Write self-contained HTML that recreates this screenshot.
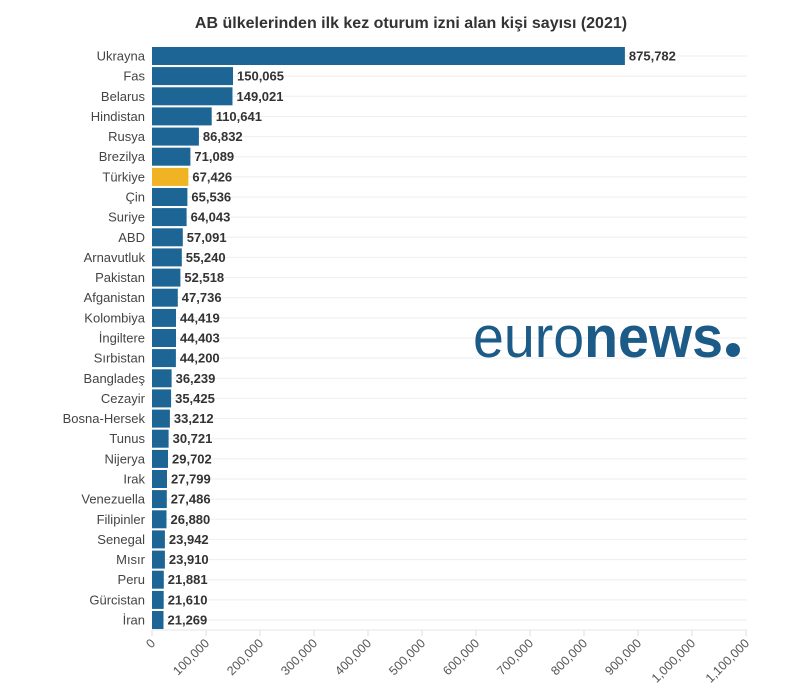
<!DOCTYPE html>
<html><head><meta charset="utf-8"><style>body{margin:0;background:#fff}svg{display:block}</style></head><body>
<svg width="804" height="700" xmlns="http://www.w3.org/2000/svg" font-family="'Liberation Sans',sans-serif">
<text x="411" y="28" text-anchor="middle" font-size="16" font-weight="bold" fill="#333">AB ülkelerinden ilk kez oturum izni alan kişi sayısı (2021)</text>
<g stroke="#ddd">
<line x1="152" y1="630" x2="152" y2="636"/><line x1="206" y1="630" x2="206" y2="636"/><line x1="260" y1="630" x2="260" y2="636"/><line x1="314" y1="630" x2="314" y2="636"/><line x1="368" y1="630" x2="368" y2="636"/><line x1="422" y1="630" x2="422" y2="636"/><line x1="476" y1="630" x2="476" y2="636"/><line x1="530" y1="630" x2="530" y2="636"/><line x1="584" y1="630" x2="584" y2="636"/><line x1="638" y1="630" x2="638" y2="636"/><line x1="692" y1="630" x2="692" y2="636"/><line x1="746" y1="630" x2="746" y2="636"/>
<line x1="152" y1="630" x2="747" y2="630" stroke="#e6e6e6"/>
</g>
<g font-size="12.5" fill="#555" text-anchor="end">
<text transform="translate(156,644) rotate(-45)">0</text>
<text transform="translate(210,644) rotate(-45)">100,000</text>
<text transform="translate(264,644) rotate(-45)">200,000</text>
<text transform="translate(318,644) rotate(-45)">300,000</text>
<text transform="translate(372,644) rotate(-45)">400,000</text>
<text transform="translate(426,644) rotate(-45)">500,000</text>
<text transform="translate(480,644) rotate(-45)">600,000</text>
<text transform="translate(534,644) rotate(-45)">700,000</text>
<text transform="translate(588,644) rotate(-45)">800,000</text>
<text transform="translate(642,644) rotate(-45)">900,000</text>
<text transform="translate(696,644) rotate(-45)">1,000,000</text>
<text transform="translate(750,644) rotate(-45)">1,100,000</text>
</g>
<defs><style>.gl{stroke:#eee}.b{fill:#1d6594}.l{font-size:13px;fill:#444;text-anchor:end}.v{font-size:13px;font-weight:bold;fill:#333}</style></defs>
<g transform="translate(0,56)"><line class="gl" x1="152" x2="747"/><rect class="b" x="152" y="-9" width="472.9" height="18"/><text class="l" x="145" y="4.5">Ukrayna</text><text class="v" x="628.9" y="4.5">875,782</text></g>
<g transform="translate(0,76.1)"><line class="gl" x1="152" x2="747"/><rect class="b" x="152" y="-9" width="81" height="18"/><text class="l" x="145" y="4.5">Fas</text><text class="v" x="237" y="4.5">150,065</text></g>
<g transform="translate(0,96.3)"><line class="gl" x1="152" x2="747"/><rect class="b" x="152" y="-9" width="80.5" height="18"/><text class="l" x="145" y="4.5">Belarus</text><text class="v" x="236.5" y="4.5">149,021</text></g>
<g transform="translate(0,116.4)"><line class="gl" x1="152" x2="747"/><rect class="b" x="152" y="-9" width="59.7" height="18"/><text class="l" x="145" y="4.5">Hindistan</text><text class="v" x="215.7" y="4.5">110,641</text></g>
<g transform="translate(0,136.6)"><line class="gl" x1="152" x2="747"/><rect class="b" x="152" y="-9" width="46.9" height="18"/><text class="l" x="145" y="4.5">Rusya</text><text class="v" x="202.9" y="4.5">86,832</text></g>
<g transform="translate(0,156.7)"><line class="gl" x1="152" x2="747"/><rect class="b" x="152" y="-9" width="38.4" height="18"/><text class="l" x="145" y="4.5">Brezilya</text><text class="v" x="194.4" y="4.5">71,089</text></g>
<g transform="translate(0,176.9)"><line class="gl" x1="152" x2="747"/><rect x="152" y="-9" width="36.4" height="18" fill="#f0b323"/><text class="l" x="145" y="4.5">Türkiye</text><text class="v" x="192.4" y="4.5">67,426</text></g>
<g transform="translate(0,197)"><line class="gl" x1="152" x2="747"/><rect class="b" x="152" y="-9" width="35.4" height="18"/><text class="l" x="145" y="4.5">Çin</text><text class="v" x="191.4" y="4.5">65,536</text></g>
<g transform="translate(0,217.1)"><line class="gl" x1="152" x2="747"/><rect class="b" x="152" y="-9" width="34.6" height="18"/><text class="l" x="145" y="4.5">Suriye</text><text class="v" x="190.6" y="4.5">64,043</text></g>
<g transform="translate(0,237.3)"><line class="gl" x1="152" x2="747"/><rect class="b" x="152" y="-9" width="30.8" height="18"/><text class="l" x="145" y="4.5">ABD</text><text class="v" x="186.8" y="4.5">57,091</text></g>
<g transform="translate(0,257.4)"><line class="gl" x1="152" x2="747"/><rect class="b" x="152" y="-9" width="29.8" height="18"/><text class="l" x="145" y="4.5">Arnavutluk</text><text class="v" x="185.8" y="4.5">55,240</text></g>
<g transform="translate(0,277.6)"><line class="gl" x1="152" x2="747"/><rect class="b" x="152" y="-9" width="28.4" height="18"/><text class="l" x="145" y="4.5">Pakistan</text><text class="v" x="184.4" y="4.5">52,518</text></g>
<g transform="translate(0,297.7)"><line class="gl" x1="152" x2="747"/><rect class="b" x="152" y="-9" width="25.8" height="18"/><text class="l" x="145" y="4.5">Afganistan</text><text class="v" x="181.8" y="4.5">47,736</text></g>
<g transform="translate(0,317.9)"><line class="gl" x1="152" x2="747"/><rect class="b" x="152" y="-9" width="24" height="18"/><text class="l" x="145" y="4.5">Kolombiya</text><text class="v" x="180" y="4.5">44,419</text></g>
<g transform="translate(0,338)"><line class="gl" x1="152" x2="747"/><rect class="b" x="152" y="-9" width="24" height="18"/><text class="l" x="145" y="4.5">İngiltere</text><text class="v" x="180" y="4.5">44,403</text></g>
<g transform="translate(0,358.1)"><line class="gl" x1="152" x2="747"/><rect class="b" x="152" y="-9" width="23.9" height="18"/><text class="l" x="145" y="4.5">Sırbistan</text><text class="v" x="179.9" y="4.5">44,200</text></g>
<g transform="translate(0,378.3)"><line class="gl" x1="152" x2="747"/><rect class="b" x="152" y="-9" width="19.6" height="18"/><text class="l" x="145" y="4.5">Bangladeş</text><text class="v" x="175.6" y="4.5">36,239</text></g>
<g transform="translate(0,398.4)"><line class="gl" x1="152" x2="747"/><rect class="b" x="152" y="-9" width="19.1" height="18"/><text class="l" x="145" y="4.5">Cezayir</text><text class="v" x="175.1" y="4.5">35,425</text></g>
<g transform="translate(0,418.6)"><line class="gl" x1="152" x2="747"/><rect class="b" x="152" y="-9" width="17.9" height="18"/><text class="l" x="145" y="4.5">Bosna-Hersek</text><text class="v" x="173.9" y="4.5">33,212</text></g>
<g transform="translate(0,438.7)"><line class="gl" x1="152" x2="747"/><rect class="b" x="152" y="-9" width="16.6" height="18"/><text class="l" x="145" y="4.5">Tunus</text><text class="v" x="172.6" y="4.5">30,721</text></g>
<g transform="translate(0,458.9)"><line class="gl" x1="152" x2="747"/><rect class="b" x="152" y="-9" width="16" height="18"/><text class="l" x="145" y="4.5">Nijerya</text><text class="v" x="172" y="4.5">29,702</text></g>
<g transform="translate(0,479)"><line class="gl" x1="152" x2="747"/><rect class="b" x="152" y="-9" width="15" height="18"/><text class="l" x="145" y="4.5">Irak</text><text class="v" x="171" y="4.5">27,799</text></g>
<g transform="translate(0,499.1)"><line class="gl" x1="152" x2="747"/><rect class="b" x="152" y="-9" width="14.8" height="18"/><text class="l" x="145" y="4.5">Venezuella</text><text class="v" x="170.8" y="4.5">27,486</text></g>
<g transform="translate(0,519.3)"><line class="gl" x1="152" x2="747"/><rect class="b" x="152" y="-9" width="14.5" height="18"/><text class="l" x="145" y="4.5">Filipinler</text><text class="v" x="170.5" y="4.5">26,880</text></g>
<g transform="translate(0,539.4)"><line class="gl" x1="152" x2="747"/><rect class="b" x="152" y="-9" width="12.9" height="18"/><text class="l" x="145" y="4.5">Senegal</text><text class="v" x="168.9" y="4.5">23,942</text></g>
<g transform="translate(0,559.6)"><line class="gl" x1="152" x2="747"/><rect class="b" x="152" y="-9" width="12.9" height="18"/><text class="l" x="145" y="4.5">Mısır</text><text class="v" x="168.9" y="4.5">23,910</text></g>
<g transform="translate(0,579.7)"><line class="gl" x1="152" x2="747"/><rect class="b" x="152" y="-9" width="11.8" height="18"/><text class="l" x="145" y="4.5">Peru</text><text class="v" x="167.8" y="4.5">21,881</text></g>
<g transform="translate(0,599.9)"><line class="gl" x1="152" x2="747"/><rect class="b" x="152" y="-9" width="11.7" height="18"/><text class="l" x="145" y="4.5">Gürcistan</text><text class="v" x="167.7" y="4.5">21,610</text></g>
<g transform="translate(0,620)"><line class="gl" x1="152" x2="747"/><rect class="b" x="152" y="-9" width="11.5" height="18"/><text class="l" x="145" y="4.5">İran</text><text class="v" x="167.5" y="4.5">21,269</text></g>
<text x="473" y="357" font-size="58" fill="#1c5a87" textLength="250" lengthAdjust="spacingAndGlyphs"><tspan>euro</tspan><tspan font-weight="bold">news</tspan></text>
<circle cx="733" cy="350" r="7" fill="#1c5a87"/>
</svg></body></html>
